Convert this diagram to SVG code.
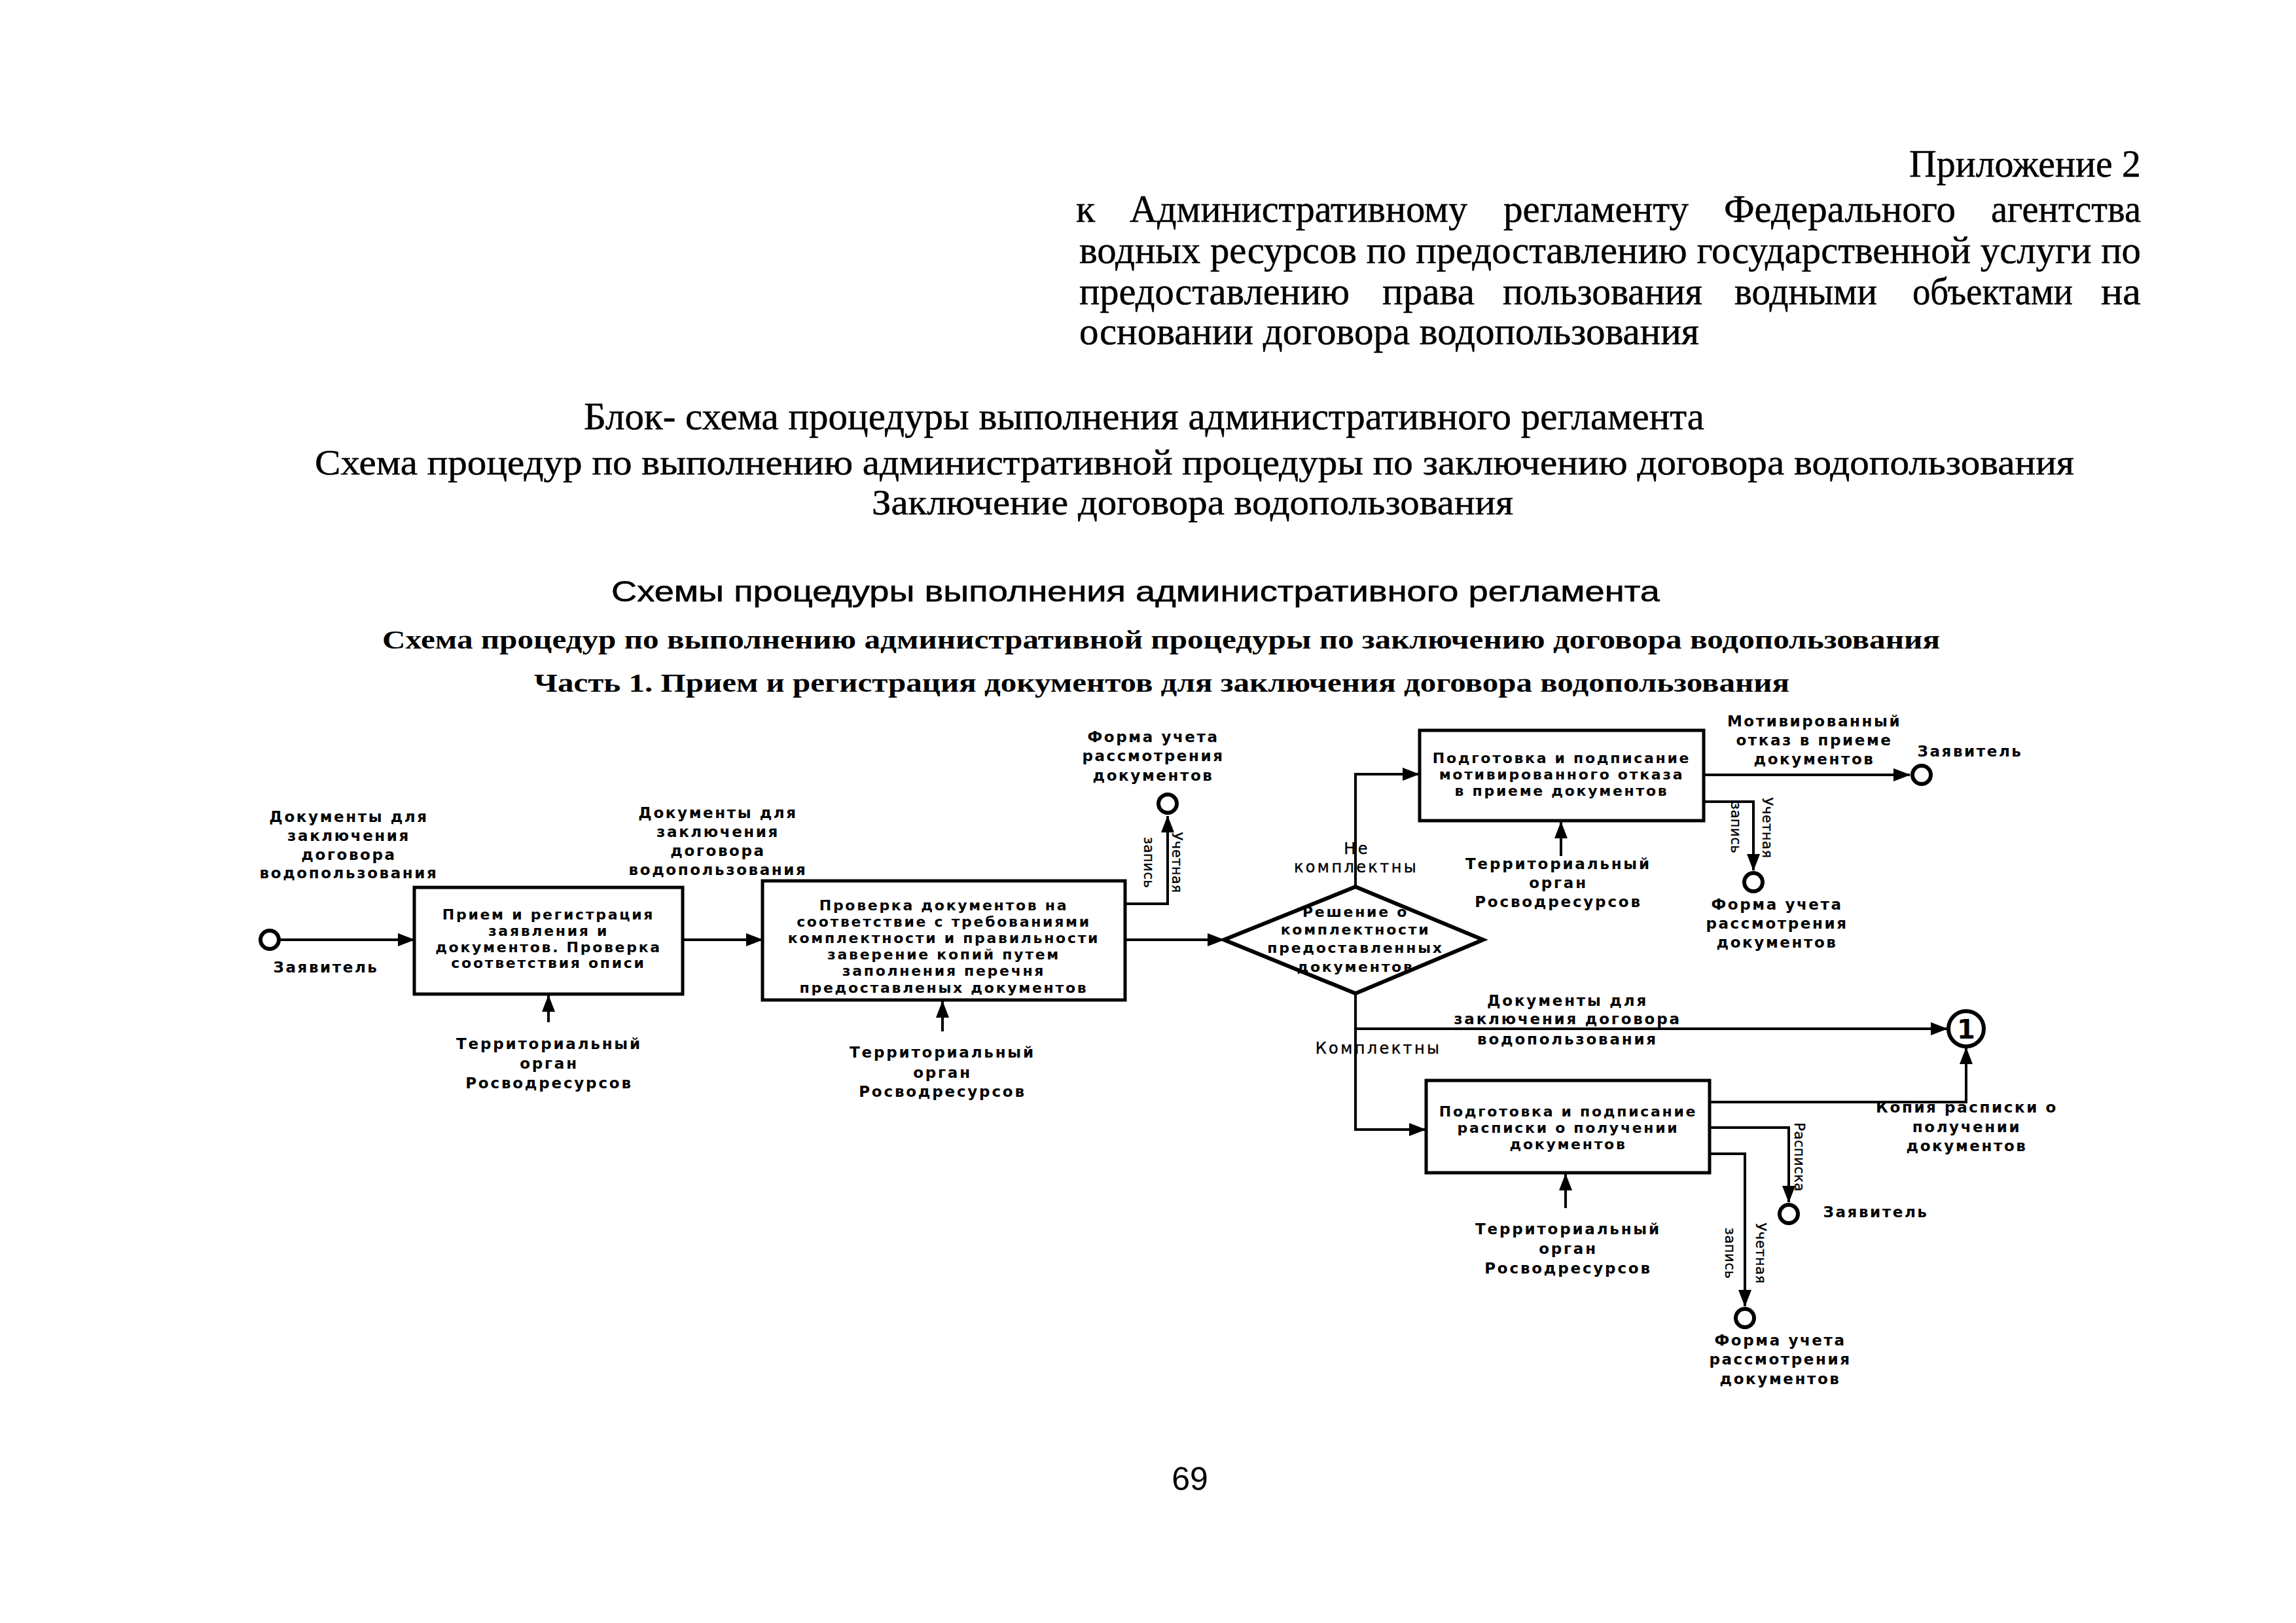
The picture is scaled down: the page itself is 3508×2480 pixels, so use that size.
<svg xmlns="http://www.w3.org/2000/svg" width="3508" height="2480" viewBox="0 0 3508 2480">
<style>
.hd{font-family:"Liberation Serif","Times New Roman",serif;font-size:60px;fill:#000;stroke:#000;stroke-width:0.5px}
.hs{font-family:"Liberation Serif","Times New Roman",serif;font-size:54px;fill:#000;stroke:#000;stroke-width:0.5px}
.sec{font-family:"Liberation Sans",Arial,sans-serif;font-size:44px;fill:#000;stroke:#000;stroke-width:0.6px}
.sb{font-family:"Liberation Serif","Times New Roman",serif;font-weight:bold;font-size:40px;fill:#000}
.box{fill:#fff;stroke:#000;stroke-width:5}
.ev{fill:#fff;stroke:#000;stroke-width:6}
.dm{fill:none;stroke:#000;stroke-width:6;stroke-linejoin:miter}
.c{fill:none;stroke:#000;stroke-width:4}
.t{font-family:"DejaVu Sans",sans-serif;font-weight:bold;font-size:22px;letter-spacing:2.7px;text-anchor:middle;fill:#000}
.l{font-family:"DejaVu Sans",sans-serif;font-weight:bold;font-size:23px;letter-spacing:2.6px;text-anchor:middle;fill:#000}
.n{font-family:"DejaVu Sans",sans-serif;font-weight:bold;font-size:23px;letter-spacing:2.8px;text-anchor:middle;fill:#000}
.m{font-family:"DejaVu Sans",sans-serif;font-size:24px;letter-spacing:3.4px;text-anchor:middle;fill:#000;stroke:#000;stroke-width:0.4px}
.r{font-family:"DejaVu Sans",sans-serif;font-size:21px;letter-spacing:0.5px;text-anchor:middle;fill:#000;stroke:#000;stroke-width:0.4px}
.pg{font-family:"Liberation Sans",Arial,sans-serif;font-size:50px;text-anchor:middle;fill:#000}
</style>
<defs>
<marker id="ah" markerUnits="userSpaceOnUse" markerWidth="26" markerHeight="20" viewBox="0 0 26 20" refX="25" refY="10" orient="auto">
<path d="M0,0 L26,10 L0,20 z" fill="#000"/>
</marker>
</defs>
<rect width="3508" height="2480" fill="#fff"/>

<g id="header">
<text class="hd" x="2917" y="270" textLength="354" lengthAdjust="spacingAndGlyphs">Приложение 2</text>
<text class="hd" x="1644" y="339">к</text>
<text class="hd" x="1726" y="339" textLength="516" lengthAdjust="spacingAndGlyphs">Административному</text>
<text class="hd" x="2297" y="339" textLength="283" lengthAdjust="spacingAndGlyphs">регламенту</text>
<text class="hd" x="2634" y="339" textLength="354" lengthAdjust="spacingAndGlyphs">Федерального</text>
<text class="hd" x="3042" y="339" textLength="229" lengthAdjust="spacingAndGlyphs">агентства</text>
<text class="hd" x="1649" y="402" textLength="1622" lengthAdjust="spacingAndGlyphs">водных ресурсов по предоставлению государственной услуги по</text>
<text class="hd" x="1649" y="465" textLength="413" lengthAdjust="spacingAndGlyphs">предоставлению</text>
<text class="hd" x="2112" y="465" textLength="141" lengthAdjust="spacingAndGlyphs">права</text>
<text class="hd" x="2296" y="465" textLength="305" lengthAdjust="spacingAndGlyphs">пользования</text>
<text class="hd" x="2650" y="465" textLength="218" lengthAdjust="spacingAndGlyphs">водными</text>
<text class="hd" x="2922" y="465" textLength="245" lengthAdjust="spacingAndGlyphs">объектами</text>
<text class="hd" x="3210" y="465" textLength="61" lengthAdjust="spacingAndGlyphs">на</text>
<text class="hd" x="1649" y="526" textLength="947" lengthAdjust="spacingAndGlyphs">основании договора водопользования</text>
</g>

<g id="titles">
<text class="hd" x="892" y="656" textLength="1712" lengthAdjust="spacingAndGlyphs">Блок- схема процедуры выполнения административного регламента</text>
<text class="hs" x="481" y="725" textLength="2688" lengthAdjust="spacingAndGlyphs">Схема процедур по выполнению административной процедуры по заключению договора водопользования</text>
<text class="hs" x="1332" y="786" textLength="980" lengthAdjust="spacingAndGlyphs">Заключение договора водопользования</text>
<text class="sec" x="934" y="919" textLength="1602" lengthAdjust="spacingAndGlyphs">Схемы процедуры выполнения административного регламента</text>
<text class="sb" x="584" y="991" textLength="2380" lengthAdjust="spacingAndGlyphs">Схема процедур по выполнению административной процедуры по заключению договора водопользования</text>
<text class="sb" x="816" y="1057" textLength="1918" lengthAdjust="spacingAndGlyphs">Часть 1. Прием и регистрация документов для заключения договора водопользования</text>
</g>

<g id="connectors">
<line class="c" x1="429" y1="1436" x2="633" y2="1436" marker-end="url(#ah)"/>
<line class="c" x1="1043" y1="1436" x2="1165" y2="1436" marker-end="url(#ah)"/>
<line class="c" x1="838" y1="1562" x2="838" y2="1521" marker-end="url(#ah)"/>
<polyline class="c" points="1720,1381 1784,1381 1784,1247" marker-end="url(#ah)"/>
<line class="c" x1="1440" y1="1576" x2="1440" y2="1530" marker-end="url(#ah)"/>
<line class="c" x1="1720" y1="1436" x2="1870" y2="1436" marker-end="url(#ah)"/>
<polyline class="c" points="2071,1355 2071,1183 2168,1183" marker-end="url(#ah)"/>
<line class="c" x1="2603" y1="1184" x2="2918" y2="1184" marker-end="url(#ah)"/>
<polyline class="c" points="2603,1225 2679,1225 2679,1330" marker-end="url(#ah)"/>
<line class="c" x1="2385" y1="1308" x2="2385" y2="1256" marker-end="url(#ah)"/>
<polyline class="c" points="2071,1518 2071,1726 2178,1726" marker-end="url(#ah)"/>
<line class="c" x1="2071" y1="1572" x2="2975" y2="1572" marker-end="url(#ah)"/>
<polyline class="c" points="2612,1684 3004,1684 3004,1601" marker-end="url(#ah)"/>
<polyline class="c" points="2612,1723 2733,1723 2733,1837" marker-end="url(#ah)"/>
<polyline class="c" points="2612,1763 2666,1763 2666,1996" marker-end="url(#ah)"/>
<line class="c" x1="2392" y1="1846" x2="2392" y2="1794" marker-end="url(#ah)"/>
</g>

<g id="start-applicant">
<circle class="ev" cx="412" cy="1436" r="14"/>
<text class="l" x="498" y="1486">Заявитель</text>
<text class="l" x="533" y="1256">Документы для</text>
<text class="l" x="533" y="1285">заключения</text>
<text class="l" x="533" y="1314">договора</text>
<text class="l" x="533" y="1342">водопользования</text>
</g>

<g id="task-reception">
<rect class="box" x="633" y="1356" width="410" height="163"/>
<text class="t" x="838" y="1405">Прием и регистрация</text>
<text class="t" x="838" y="1430">заявления и</text>
<text class="t" x="838" y="1455">документов. Проверка</text>
<text class="t" x="838" y="1479">соответствия описи</text>
<text class="n" x="839" y="1603">Территориальный</text>
<text class="n" x="839" y="1633">орган</text>
<text class="n" x="839" y="1663">Росводресурсов</text>
</g>

<g id="label-docs-2">
<text class="l" x="1097" y="1250">Документы для</text>
<text class="l" x="1097" y="1279">заключения</text>
<text class="l" x="1097" y="1308">договора</text>
<text class="l" x="1097" y="1337">водопользования</text>
</g>

<g id="task-check">
<rect class="box" x="1165" y="1346" width="554" height="182"/>
<text class="t" x="1442" y="1391">Проверка документов на</text>
<text class="t" x="1442" y="1416">соответствие с требованиями</text>
<text class="t" x="1442" y="1441">комплектности и правильности</text>
<text class="t" x="1442" y="1466">заверение копий путем</text>
<text class="t" x="1442" y="1491">заполнения перечня</text>
<text class="t" x="1442" y="1517">предоставленых документов</text>
<text class="n" x="1440" y="1616">Территориальный</text>
<text class="n" x="1440" y="1647">орган</text>
<text class="n" x="1440" y="1676">Росводресурсов</text>
</g>

<g id="end-form-1">
<circle class="ev" cx="1784" cy="1228" r="14"/>
<text class="l" x="1762" y="1134">Форма учета</text>
<text class="l" x="1762" y="1163">рассмотрения</text>
<text class="l" x="1762" y="1193">документов</text>
<text class="r" transform="translate(1779,1318) rotate(90)"><tspan x="0" y="-12">Учетная</tspan><tspan x="0" y="31">запись</tspan></text>
</g>

<g id="gateway">
<text class="t" x="2071" y="1401">Решение о</text>
<text class="t" x="2071" y="1428">комплектности</text>
<text class="t" x="2071" y="1456">предоставленных</text>
<text class="t" x="2071" y="1485">документов</text>
<polygon class="dm" points="1870,1436 2071,1355 2266,1436 2071,1518"/>
<text class="m" x="2073" y="1305">Не</text>
<text class="m" x="2072" y="1333">комплектны</text>
<text class="m" x="2106" y="1610">Комплектны</text>
</g>

<g id="task-refusal">
<rect class="box" x="2169" y="1116" width="434" height="138"/>
<text class="t" x="2386" y="1166">Подготовка и подписание</text>
<text class="t" x="2386" y="1191">мотивированного отказа</text>
<text class="t" x="2386" y="1216">в приеме документов</text>
<text class="n" x="2381" y="1328">Территориальный</text>
<text class="n" x="2381" y="1357">орган</text>
<text class="n" x="2381" y="1386">Росводресурсов</text>
</g>

<g id="end-applicant-refusal">
<circle class="ev" cx="2936" cy="1184" r="14"/>
<text class="l" x="2772" y="1110">Мотивированный</text>
<text class="l" x="2772" y="1139">отказ в приеме</text>
<text class="l" x="2772" y="1168">документов</text>
<text class="l" x="3010" y="1156">Заявитель</text>
</g>

<g id="end-form-2">
<circle class="ev" cx="2679" cy="1348" r="14"/>
<text class="r" transform="translate(2680,1265) rotate(90)"><tspan x="0" y="-13">Учетная</tspan><tspan x="0" y="35">запись</tspan></text>
<text class="l" x="2715" y="1390">Форма учета</text>
<text class="l" x="2715" y="1419">рассмотрения</text>
<text class="l" x="2715" y="1448">документов</text>
</g>

<g id="label-docs-3">
<text class="n" x="2395" y="1537">Документы для</text>
<text class="n" x="2395" y="1565">заключения договора</text>
<text class="n" x="2395" y="1596">водопользования</text>
</g>

<g id="connector-1">
<circle class="ev" cx="3004" cy="1572" r="27"/>
<text x="3004" y="1587" style="font-family:'DejaVu Sans',sans-serif;font-weight:bold;font-size:40px;text-anchor:middle">1</text>
</g>

<g id="task-receipt">
<rect class="box" x="2179" y="1651" width="433" height="141"/>
<text class="t" x="2396" y="1706">Подготовка и подписание</text>
<text class="t" x="2396" y="1731">расписки о получении</text>
<text class="t" x="2396" y="1756">документов</text>
<text class="n" x="2396" y="1886">Территориальный</text>
<text class="n" x="2396" y="1916">орган</text>
<text class="n" x="2396" y="1946">Росводресурсов</text>
<text class="l" x="3005" y="1700">Копия расписки о</text>
<text class="l" x="3005" y="1730">получении</text>
<text class="l" x="3005" y="1759">документов</text>
</g>

<g id="end-applicant-receipt">
<circle class="ev" cx="2733" cy="1855" r="14"/>
<text class="r" transform="translate(2733,1768) rotate(90)"><tspan x="0" y="-9">Расписка</tspan></text>
<text class="l" x="2866" y="1860">Заявитель</text>
</g>

<g id="end-form-3">
<circle class="ev" cx="2666" cy="2014" r="14"/>
<text class="r" transform="translate(2666,1915) rotate(90)"><tspan x="0" y="-17">Учетная</tspan><tspan x="0" y="30">запись</tspan></text>
<text class="l" x="2720" y="2056">Форма учета</text>
<text class="l" x="2720" y="2085">рассмотрения</text>
<text class="l" x="2720" y="2115">документов</text>
</g>

<g id="page-number">
<text class="pg" x="1818" y="2277">69</text>
</g>
</svg>
